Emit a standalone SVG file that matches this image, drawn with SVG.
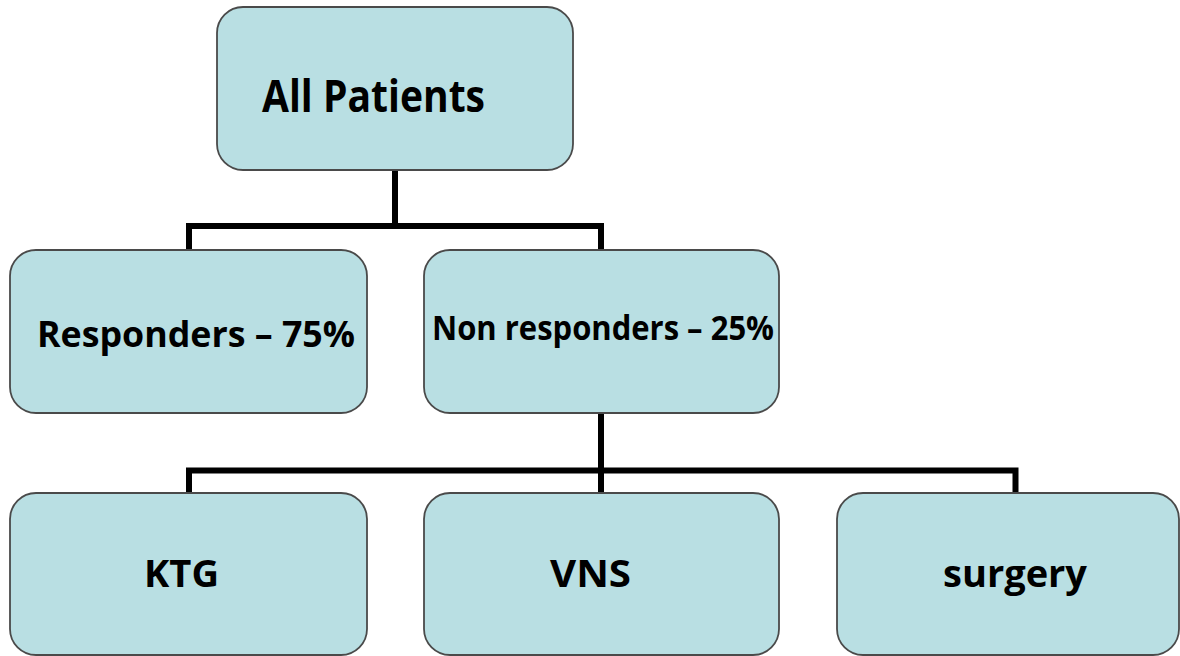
<svg xmlns="http://www.w3.org/2000/svg" width="1180" height="656" viewBox="0 0 1180 656">
<style>
.box{fill:#b9dfe3;stroke:#4a4a4a;stroke-width:1.8}
.lbl{font-family:"Open Sans","Liberation Sans",Arial,sans-serif;font-weight:bold;fill:#000;font-variant-ligatures:none}
.conn{fill:none;stroke:#000;stroke-width:6;stroke-linejoin:miter}
</style>
<rect width="1180" height="656" fill="#fff"/>
<g id="connectors">
<path class="conn" d="M395,170 V226 M189,250 V226 H601 V250"/>
<path class="conn" d="M601,413 V493 M189,493 V470.5 H1015.5 V493"/>
</g>
<g id="all-patients">
<rect class="box" x="217" y="7" width="356" height="163" rx="26"/>
<text class="lbl" x="262" y="112" font-size="44" textLength="223" lengthAdjust="spacingAndGlyphs">All Patients</text>
</g>
<g id="responders">
<rect class="box" x="10" y="250" width="357" height="163" rx="26"/>
<text class="lbl" x="37" y="347" font-size="35" textLength="318" lengthAdjust="spacingAndGlyphs">Responders – 75%</text>
</g>
<g id="non-responders">
<rect class="box" x="424" y="250" width="355" height="163" rx="26"/>
<text class="lbl" x="432" y="340" font-size="34" textLength="342" lengthAdjust="spacingAndGlyphs">Non responders – 25%</text>
</g>
<g id="ktg">
<rect class="box" x="10" y="493" width="357" height="162" rx="26"/>
<text class="lbl" x="144" y="587" font-size="38" textLength="75" lengthAdjust="spacingAndGlyphs">KTG</text>
</g>
<g id="vns">
<rect class="box" x="424" y="493" width="355" height="162" rx="26"/>
<text class="lbl" x="550" y="587" font-size="38" textLength="81" lengthAdjust="spacingAndGlyphs">VNS</text>
</g>
<g id="surgery">
<rect class="box" x="837" y="493" width="342" height="162" rx="26"/>
<text class="lbl" x="943" y="587" font-size="38" textLength="144" lengthAdjust="spacingAndGlyphs">surgery</text>
</g>
</svg>
